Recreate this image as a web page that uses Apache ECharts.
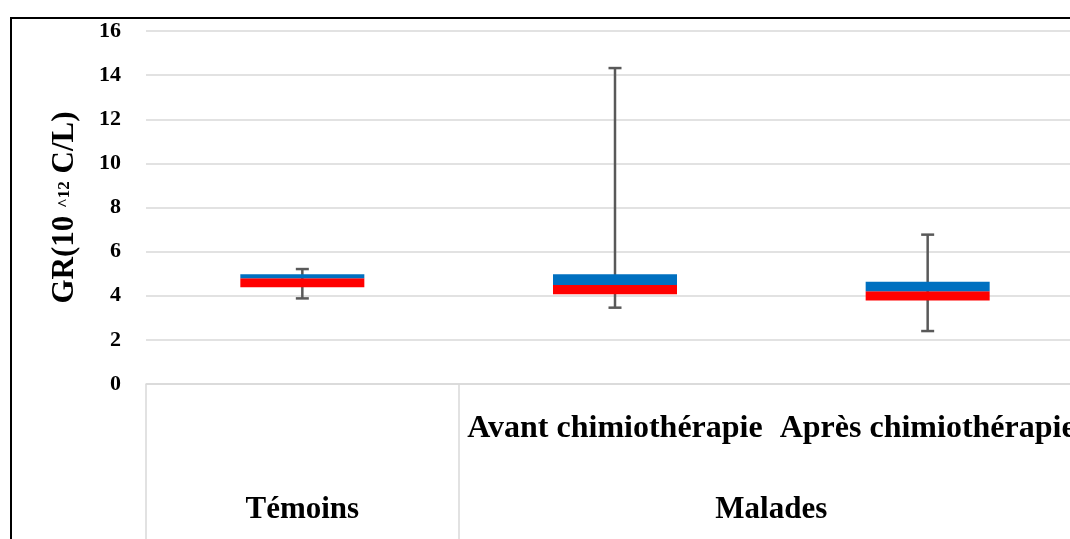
<!DOCTYPE html>
<html>
<head>
<meta charset="utf-8">
<script src="https://cdn.jsdelivr.net/npm/echarts@6/dist/echarts.min.js"></script>
<style>
  html, body { margin: 0; padding: 0; background: #fff; overflow: hidden; }
  #chart { width: 1090px; height: 539px; }
</style>
</head>
<body>
<div id="chart"></div>
<script>
// Inner category level (one box per category)
const categories = ['', 'Avant chimiothérapie', 'Après chimiothérapie'];
// Outer category level and how many inner categories each group spans
const groups = ['Témoins', 'Malades'];
const groupSpans = [1, 2];

// Box statistics, GR (10^12 C/L)
const q1 = [4.38, 4.07, 3.79];
const median = [4.79, 4.49, 4.20];
const q3 = [4.97, 4.97, 4.64];
const whiskerMin = [3.88, 3.46, 2.40];
const whiskerMax = [5.21, 14.32, 6.77];

const yTicks = [0, 2, 4, 6, 8, 10, 12, 14, 16];

const FONT = 'Liberation Serif, Times New Roman, serif';
const GRID_GRAY = '#d9d9d9';

// Outer axis: half-band slots, group boundaries on even slots, labels centered on their span
const slotCount = categories.length * 2 + 1;
const outerLabels = new Array(slotCount).fill('');
const boundarySlots = new Set();
let offset = 0;
groups.forEach((g, i) => {
  boundarySlots.add(offset * 2);
  outerLabels[offset * 2 + groupSpans[i]] = g;
  offset += groupSpans[i];
});
const outerSlots = outerLabels.map((_, i) => 's' + i);

const lower = q1;
const redPart = median.map((m, i) => +(m - q1[i]).toFixed(3));
const bluePart = q3.map((v, i) => +(v - median[i]).toFixed(3));
const whiskers = categories.map((_, i) => [i, whiskerMin[i], whiskerMax[i]]);

const chart = echarts.init(document.getElementById('chart'), null, { renderer: 'canvas' });

chart.setOption({
  animation: false,
  backgroundColor: '#fff',
  textStyle: { fontFamily: FONT },
  grid: { left: 146, right: 6, top: 31, bottom: 155, containLabel: false },
  graphic: [{
    type: 'rect',
    shape: { x: 11, y: 18, width: 1300, height: 700 },
    style: { fill: 'none', stroke: '#000', lineWidth: 2 },
    silent: true,
    z: 10
  }],
  xAxis: [{
    type: 'category',
    data: categories,
    axisLine: { show: true, lineStyle: { color: GRID_GRAY, width: 1.5 } },
    axisTick: { show: false },
    axisLabel: {
      interval: 0,
      margin: 29,
      color: '#000',
      fontFamily: FONT,
      fontWeight: 'bold',
      fontSize: 32
    }
  }, {
    type: 'category',
    data: outerSlots,
    boundaryGap: false,
    position: 'bottom',
    axisLine: { show: false },
    axisTick: {
      show: true,
      length: 160,
      interval: (idx) => boundarySlots.has(idx),
      lineStyle: { color: GRID_GRAY, width: 1.5 }
    },
    axisLabel: {
      interval: 0,
      margin: 110,
      color: '#000',
      fontFamily: FONT,
      fontWeight: 'bold',
      fontSize: 31,
      formatter: (v, idx) => outerLabels[idx]
    }
  }],
  yAxis: {
    type: 'value',
    min: yTicks[0],
    max: yTicks[yTicks.length - 1],
    interval: 2,
    name: '{a|GR(10 }{b|^12}{a| C/L)}',
    nameLocation: 'middle',
    nameRotate: 90,
    nameGap: 66,
    nameTextStyle: {
      rich: {
        a: { fontFamily: FONT, fontWeight: 'bold', fontSize: 31, color: '#000' },
        b: { fontFamily: FONT, fontWeight: 'bold', fontSize: 17, color: '#000' }
      }
    },
    axisLine: { show: false },
    axisTick: { show: false },
    splitLine: { lineStyle: { color: GRID_GRAY, width: 1.5 } },
    axisLabel: {
      margin: 25,
      color: '#000',
      fontFamily: FONT,
      fontWeight: 'bold',
      fontSize: 22
    }
  },
  series: [{
    type: 'custom',
    name: 'whiskers',
    z: 1,
    data: whiskers,
    renderItem: (params, api) => {
      const x = api.value(0);
      const lo = api.coord([x, api.value(1)]);
      const hi = api.coord([x, api.value(2)]);
      const cap = 6.5;
      const style = { stroke: '#595959', lineWidth: 2.5 };
      return {
        type: 'group',
        children: [
          { type: 'line', shape: { x1: lo[0], y1: lo[1], x2: hi[0], y2: hi[1] }, style },
          { type: 'line', shape: { x1: lo[0] - cap, y1: lo[1], x2: lo[0] + cap, y2: lo[1] }, style },
          { type: 'line', shape: { x1: hi[0] - cap, y1: hi[1], x2: hi[0] + cap, y2: hi[1] }, style }
        ]
      };
    }
  }, {
    type: 'bar',
    stack: 'box',
    data: lower,
    barWidth: 124,
    itemStyle: { color: 'transparent' },
    z: 2
  }, {
    type: 'bar',
    stack: 'box',
    data: redPart,
    barWidth: 124,
    itemStyle: { color: '#ff0000' },
    z: 3
  }, {
    type: 'bar',
    stack: 'box',
    data: bluePart,
    barWidth: 124,
    itemStyle: { color: '#0070c0' },
    z: 3
  }]
});
</script>
</body>
</html>
